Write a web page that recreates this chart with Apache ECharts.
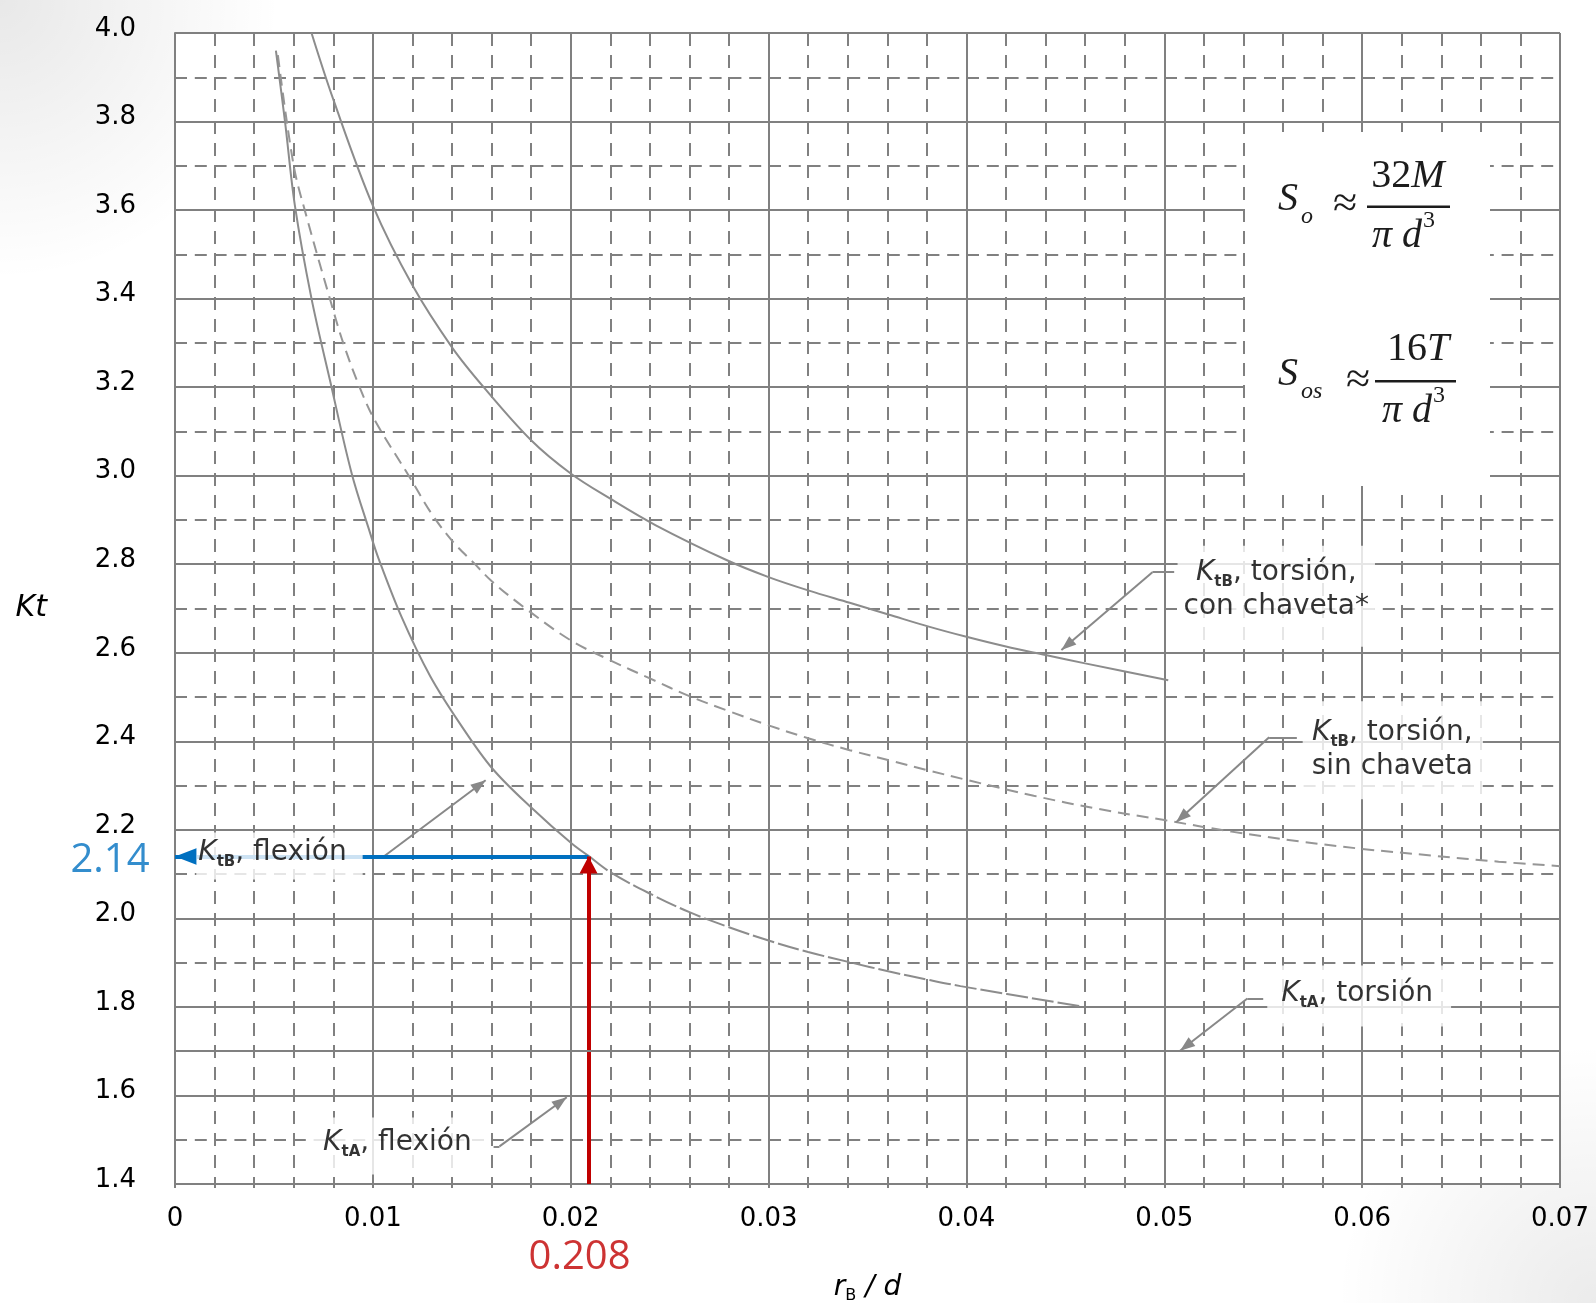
<!DOCTYPE html>
<html><head><meta charset="utf-8">
<script src="https://cdn.jsdelivr.net/npm/echarts@6/dist/echarts.min.js"></script>
<style>
html,body{margin:0;padding:0;width:1596px;height:1303px;overflow:hidden;
background: radial-gradient(circle at 0 0, rgba(0,0,0,0.09), rgba(0,0,0,0) 280px), radial-gradient(circle at 100% 100%, rgba(0,0,0,0.08), rgba(0,0,0,0) 260px), #fff;}
#c{width:1596px;height:1303px;}
</style></head><body><div id="c"></div>
<script>
// ---- data (x = rB/d, y = Kt) ----
const kTorsionConChaveta = [
  [0.0069,4.00],[0.0080,3.85],[0.0100,3.61],[0.0120,3.43],[0.0140,3.29],[0.0156,3.20],
  [0.0180,3.08],[0.0200,3.005],[0.0220,2.948],[0.0243,2.888],[0.0279,2.809],[0.0300,2.771],
  [0.0320,2.741],[0.0341,2.713],[0.0361,2.686],[0.0381,2.659],[0.0400,2.636],[0.0420,2.614],
  [0.0440,2.595],[0.0460,2.576],[0.0502,2.538]
];
const kTorsionSinChaveta = [
  [0.0052,3.95],[0.0060,3.70],[0.00665,3.585],[0.0078,3.404],[0.0085,3.30],[0.00935,3.198],
  [0.0101,3.125],[0.0118,3.001],[0.0130,2.912],[0.0141,2.848],[0.0151,2.803],[0.0160,2.762],
  [0.0176,2.704],[0.0200,2.628],[0.0220,2.583],[0.0240,2.542],[0.0260,2.502],[0.0280,2.468],
  [0.0300,2.436],[0.0320,2.407],[0.0341,2.380],[0.0361,2.357],[0.0381,2.334],[0.0400,2.313],
  [0.0434,2.277],[0.0467,2.247],[0.0500,2.222],[0.0534,2.196],[0.0568,2.174],[0.0600,2.157],
  [0.0635,2.142],[0.0669,2.128],[0.0700,2.118]
];
const kFlexion = [
  [0.0051,3.96],[0.00556,3.80],[0.00606,3.61],[0.0069,3.40],[0.00783,3.216],[0.00893,3.005],
  [0.00985,2.872],[0.01027,2.815],[0.01145,2.681],[0.0129,2.547],[0.0144,2.44],[0.01605,2.338],
  [0.01806,2.248],[0.02005,2.169],[0.02097,2.139],[0.02201,2.104],[0.0240,2.056],[0.0260,2.014],
  [0.0280,1.980],[0.0300,1.950],[0.0320,1.924],[0.0341,1.901],[0.0361,1.880],[0.0381,1.861],
  [0.0397,1.847],[0.0457,1.802]
];
const flexionDashFrom = 0.0209;          // lower curve is dashed beyond this abscissa
const readX = 0.0209, readY = 2.14;      // read-off point
const readXLabel = '0.208', readYLabel = '2.14';

// leader lines: [stubStart, bend, arrowTip]
const leaders = [
  [[0.0505,2.782],[0.0494,2.782],[0.0448,2.606]],
  [[0.0567,2.409],[0.0553,2.409],[0.0506,2.217]],
  [[0.0550,1.819],[0.0542,1.819],[0.0508,1.701]],
  [[0.0094,2.138],[0.0105,2.138],[0.0157,2.312]],
  [[0.0161,1.485],[0.0164,1.485],[0.0198,1.596]]
];
const labelTexts = [
  '{k|K}{s|tB}{n|, torsión,}\n{n|con chaveta*}',
  '{k|K}{s|tB}{n|, torsión,}\n{n|sin chaveta}',
  '{k|K}{s|tA}{n|, torsión}',
  '{k|K}{s|tB}{n|, flexión}',
  '{k|K}{s|tA}{n|, flexión}'
];
const labelAnchors = [[0.05566,2.7277],[0.06155,2.3797],[0.05985,1.8249],[0.00528,2.1412],[0.01129,1.4859]];
const labelPadding = [[10,6,23,6],[14,10,16,9],[11,18,16,14],[3,16,10,2],[8,19,15,17]];

// ---- chart ----
const grey = '#808080';
const curveGrey = '#8c8c8c';
// arrow head symbol: tip at the symbol centre, head trailing behind, square bounding box of 2*len
function arrowSym(len, halfW){
  const L = len, h = halfW;
  return 'path://M' + (-L) + ',0L' + (-L + 0.01) + ',0L' + (-L) + ',0.01Z' +
    'M' + L + ',' + (2*L) + 'L' + (L - 0.01) + ',' + (2*L) + 'L' + L + ',' + (2*L - 0.01) + 'Z' +
    'M0,' + L + 'L' + h + ',' + (2*L) + 'L' + (-h) + ',' + (2*L) + 'Z';
}
const labFont = 'DejaVu Sans';
const labelRich = {
  k:{fontFamily:labFont,fontStyle:'italic',fontSize:28,lineHeight:34,color:'#000'},
  s:{fontFamily:labFont,fontWeight:'bold',fontSize:15,lineHeight:12,verticalAlign:'bottom',color:'#000'},
  n:{fontFamily:labFont,fontSize:28,lineHeight:34,color:'#000'}
};

const flexSolid = kFlexion.filter(p => p[0] <= flexionDashFrom + 0.0002);
const flexDash = kFlexion.filter(p => p[0] >= flexionDashFrom - 0.0002);

const chart = echarts.init(document.getElementById('c'), null, {renderer:'canvas'});
const serif = '"Liberation Serif"';
const ink = '#1c1c1c';
function t(x,y,text,font,align){return {type:'text',x:x,y:y,z:101,silent:true,
  style:{text:text,font:font,fill:ink,align:align||'left',verticalAlign:'middle'}};}
function tr(x,y,text,rich){return {type:'text',x:x,y:y,z:101,silent:true,
  style:{text:text,rich:rich,fill:ink,align:'center',verticalAlign:'middle'}};}
const fracRich = {u:{fontFamily:'Liberation Serif',fontSize:40,color:ink},it:{fontFamily:'Liberation Serif',fontStyle:'italic',fontSize:40,color:ink}};
const curveSmooth = 0.35;

chart.setOption({
  animation:false,
  grid:{left:175,top:33,width:1385,height:1151,show:true,backgroundColor:'#fff',borderWidth:0,
    containLabel:false,outerBoundsMode:'none'},
  xAxis:{
    type:'value',min:0,max:0.07,interval:0.01,
    axisLine:{show:true,onZero:false,lineStyle:{color:grey,width:2}},
    axisTick:{show:true,length:4,lineStyle:{color:grey,width:2}},
    minorTick:{show:true,splitNumber:5,length:4,lineStyle:{color:grey,width:2}},
    splitLine:{show:true,lineStyle:{color:grey,width:2}},
    minorSplitLine:{show:true,lineStyle:{color:grey,width:2,type:[13,9]}},
    axisLabel:{fontFamily:labFont,fontSize:26,color:'#000',margin:22,
      formatter:v => v === 0 ? '0' : v.toFixed(2)},
    name:'{i|r}{b|B}{i| / d}',nameLocation:'middle',nameGap:88,
    nameTextStyle:{rich:{i:{fontFamily:labFont,fontStyle:'italic',fontSize:28,lineHeight:32,color:'#000'},
      b:{fontFamily:labFont,fontSize:16,lineHeight:12,verticalAlign:'bottom',color:'#000'}}}
  },
  yAxis:{
    type:'value',min:1.4,max:4.0,interval:0.2,
    axisLine:{show:true,onZero:false,lineStyle:{color:grey,width:2}},
    axisTick:{show:false},
    minorTick:{show:false,splitNumber:2},
    splitLine:{show:true,lineStyle:{color:grey,width:2}},
    minorSplitLine:{show:true,lineStyle:{color:grey,width:2,type:[12,7.8]}},
    axisLabel:{fontFamily:labFont,fontSize:26,color:'#000',margin:39,verticalAlign:'bottom',lineHeight:8,
      formatter:v => v.toFixed(1)},
    name:'Kt',nameLocation:'middle',nameRotate:0,nameGap:128,
    nameTextStyle:{fontFamily:labFont,fontStyle:'italic',fontSize:30,color:'#000'}
  },
  series:[
    {type:'line',name:'KtB torsión con chaveta',data:kTorsionConChaveta,showSymbol:false,smooth:curveSmooth,
      lineStyle:{color:curveGrey,width:2},z:2,silent:true,
      markLine:{silent:true,symbol:'none',label:{show:false},lineStyle:{color:grey,width:2,type:'solid'},data:[{yAxis:1.7}]}},
    {type:'line',name:'KtB torsión sin chaveta',data:kTorsionSinChaveta,showSymbol:false,smooth:curveSmooth,
      lineStyle:{color:'#969696',width:2,type:[12,7]},z:2,silent:true},
    {type:'line',name:'KtB flexión',data:flexSolid,showSymbol:false,smooth:curveSmooth,
      lineStyle:{color:curveGrey,width:2},z:2,silent:true},
    {type:'line',name:'KtB flexión (cont.)',data:flexDash,showSymbol:false,smooth:curveSmooth,
      lineStyle:{color:curveGrey,width:2,type:[22,4]},z:2,silent:true},
    {type:'lines',coordinateSystem:'cartesian2d',silent:true,z:3,
      lineStyle:{color:'#888',width:2,opacity:1},symbol:['none','none'],
      data:leaders.map(l => ({coords:[l[0],l[1]]}))},
    {type:'lines',coordinateSystem:'cartesian2d',silent:true,z:3,
      lineStyle:{color:'#888',width:2,opacity:1},symbol:['none',arrowSym(15,5.5)],symbolSize:30,
      data:leaders.map(l => ({coords:[l[1],l[2]]}))},
    {type:'lines',coordinateSystem:'cartesian2d',silent:true,z:4,
      lineStyle:{color:'#0070C0',width:4,opacity:1},symbol:['none',arrowSym(22,8.5)],symbolSize:44,
      data:[{coords:[[readX,readY],[0,readY]]}]},
    {type:'lines',coordinateSystem:'cartesian2d',silent:true,z:4,
      lineStyle:{color:'#C00000',width:4,opacity:1},symbol:['none',arrowSym(17,9)],symbolSize:34,
      data:[{coords:[[readX,1.4],[readX,readY]]}]},
    {type:'scatter',silent:true,z:10,symbolSize:1,itemStyle:{color:'rgba(0,0,0,0)'},
      data:labelAnchors.map((p,i) => ({value:p,label:{show:true,position:'inside',formatter:labelTexts[i],
        backgroundColor:'#fff',padding:labelPadding[i],align:'center',rich:labelRich}}))},
    {type:'scatter',silent:true,z:11,symbolSize:1,itemStyle:{color:'rgba(0,0,0,0)'},clip:false,
      data:[
        {value:[0,readY],label:{show:true,position:'left',distance:25,offset:[0,4],formatter:readYLabel,
          fontFamily:'Open Sans',fontSize:40,color:'#0070C0'}},
        {value:[readX,1.4],label:{show:true,position:'bottom',distance:53,offset:[-9,0],formatter:readXLabel,
          fontFamily:'Open Sans',fontSize:40,color:'#C00000'}}
      ]}
  ],
  graphic:[
    {type:'rect',z:100,silent:true,shape:{x:1245,y:132,width:245,height:354},style:{fill:'#fff'}},
    t(1278,199.5,'S','italic 40px '+serif),
    t(1301,217,'o','italic 24px '+serif),
    t(1345,205,'≈','44px '+serif,'center'),
    tr(1408,176,'{u|32}{it|M}',fracRich),
    {type:'rect',z:101,silent:true,shape:{x:1367,y:205.5,width:83,height:2.5},style:{fill:ink}},
    t(1372,236.5,'π d','italic 40px '+serif),
    t(1423,221,'3','24px '+serif),
    t(1278,374.5,'S','italic 40px '+serif),
    t(1301,392,'os','italic 24px '+serif),
    t(1358,381,'≈','44px '+serif,'center'),
    tr(1418,349.5,'{u|16}{it|T}',fracRich),
    {type:'rect',z:101,silent:true,shape:{x:1375,y:380,width:81,height:2.5},style:{fill:ink}},
    t(1382,411.5,'π d','italic 40px '+serif),
    t(1433,396,'3','24px '+serif)
  ]
});
</script>
</body></html>
